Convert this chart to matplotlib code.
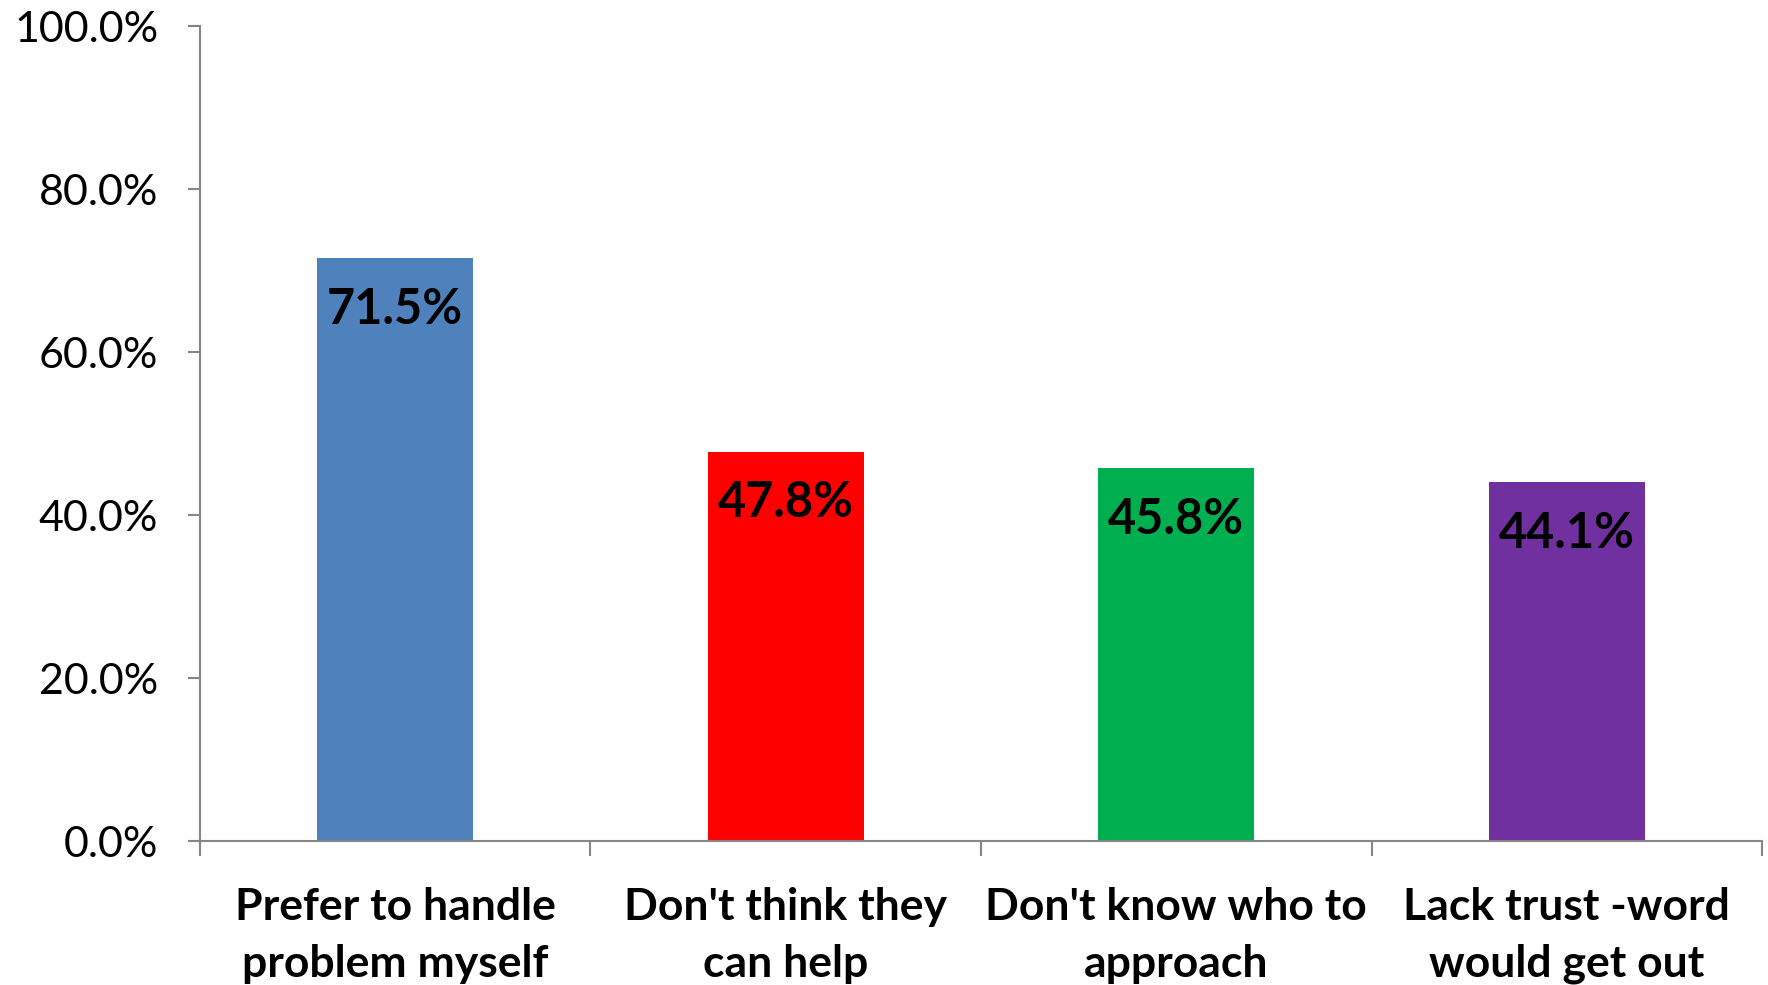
import matplotlib.pyplot as plt
from matplotlib.ticker import FuncFormatter

categories = ['Prefer to handle\nproblem myself', "Don't think they\ncan help",
              "Don't know who to\napproach", 'Lack trust -word\nwould get out']
values = [71.5, 47.8, 45.8, 44.1]
colors = ['#4F81BD', '#FF0000', '#00B050', '#7030A0']
yticks = [0, 20, 40, 60, 80, 100]

plt.rcParams['font.family'] = ['Lato', 'DejaVu Sans']

fig = plt.figure(figsize=(17.68, 9.85), dpi=100)
ax = fig.add_axes([0.113, 0.146, 0.8837, 0.8276])

x = list(range(len(categories)))
bars = ax.bar(x, values, width=0.4, color=colors)

for b, v in zip(bars, values):
    ax.annotate(f'{v:.1f}%', (b.get_x() + b.get_width() / 2, v),
                xytext=(0, -37), textcoords='offset points',
                ha='center', va='center', fontsize=35, fontweight='bold')

ax.set_xlim(-0.5, len(categories) - 0.5)
ax.set_ylim(0, 100)
ax.set_yticks(yticks)
ax.yaxis.set_major_formatter(FuncFormatter(lambda v, p: f'{v:.1f}%'))
ax.tick_params(axis='y', labelsize=31, length=9, width=1.5, color='#868686', pad=21)

# category labels centred, ticks on the boundaries
ax.set_xticks(x)
ax.set_xticklabels(categories, fontsize=32, fontweight='bold', linespacing=1.5)
ax.tick_params(axis='x', which='major', length=0, pad=33)
ax.set_xticks([i + 0.5 for i in range(-1, len(categories))], minor=True)
ax.tick_params(axis='x', which='minor', length=11, width=1.5, color='#868686')

for s in ['top', 'right']:
    ax.spines[s].set_visible(False)
for s in ['left', 'bottom']:
    ax.spines[s].set_color('#868686')
    ax.spines[s].set_linewidth(1.5)

fig.savefig('out.png', dpi=100)
